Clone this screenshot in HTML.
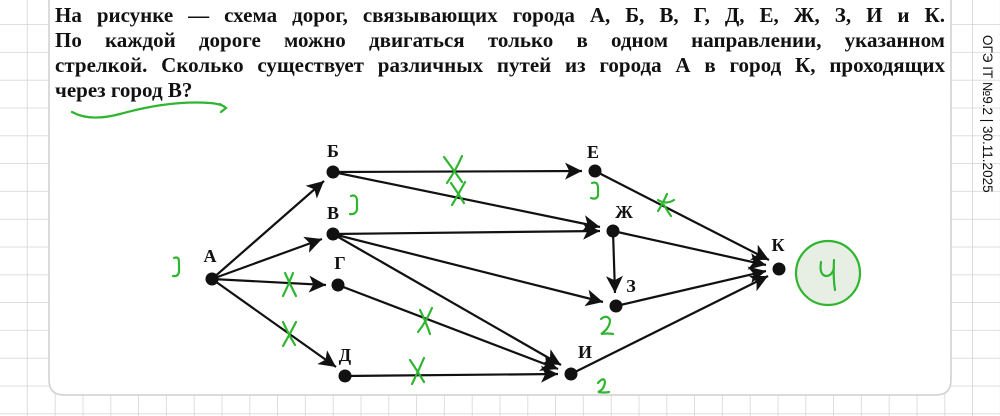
<!DOCTYPE html>
<html><head><meta charset="utf-8"><style>
html,body{margin:0;padding:0;}
body{width:1000px;height:416px;position:relative;overflow:hidden;background:#fff;}
svg{position:absolute;left:0;top:0;}
.t{position:absolute;left:55px;width:890px;font-family:"Liberation Serif",serif;font-weight:bold;font-size:21px;line-height:25px;color:#111;text-align:justify;text-align-last:justify;}
</style></head><body>
<svg width="1000" height="416" viewBox="0 0 1000 416">
<defs>
<pattern id="g" width="27.8" height="27.8" patternUnits="userSpaceOnUse" x="0" y="25">
<path d="M27.8 0V27.8M0 27.8H27.8" fill="none" stroke="#d4d4d4" stroke-width="1.5"/>
</pattern>
<marker id="a" viewBox="0 0 10 10" refX="10" refY="5" markerWidth="17" markerHeight="17" markerUnits="userSpaceOnUse" orient="auto">
<path d="M0 0L10 5L0 10L2.5 5Z" fill="#111"/>
</marker>
</defs>
<rect width="1000" height="416" fill="url(#g)"/>
<path d="M49 -5V380Q49 395 64 395H936Q951 395 951 380V-5Z" fill="#fff" stroke="#cfcfcf" stroke-width="1.5"/>
<g stroke="#111" stroke-width="2.2" fill="none" marker-end="url(#a)">
<line x1="212" y1="279" x2="324" y2="181"/>
<line x1="212" y1="279" x2="322" y2="239"/>
<line x1="212" y1="279" x2="326" y2="285"/>
<line x1="212" y1="279" x2="336" y2="367"/>
<line x1="333" y1="172" x2="582" y2="171"/>
<line x1="333" y1="172" x2="600" y2="227"/>
<line x1="333" y1="234" x2="600" y2="231"/>
<line x1="333" y1="234" x2="603" y2="302"/>
<line x1="333" y1="234" x2="561" y2="365"/>
<line x1="338" y1="285" x2="558" y2="369"/>
<line x1="345" y1="376" x2="558" y2="374"/>
<line x1="595" y1="171" x2="769" y2="260"/>
<line x1="613" y1="231" x2="766" y2="265"/>
<line x1="613" y1="231" x2="615" y2="293"/>
<line x1="616" y1="306" x2="766" y2="271"/>
<line x1="571" y1="374" x2="768" y2="276"/>
</g>
<g fill="#111">
<circle cx="212" cy="279" r="6.5"/><circle cx="333" cy="172" r="6.5"/><circle cx="333" cy="234" r="6.5"/>
<circle cx="338" cy="285" r="6.5"/><circle cx="345" cy="376" r="6.5"/><circle cx="595" cy="171" r="6.5"/>
<circle cx="613" cy="231" r="6.5"/><circle cx="616" cy="306" r="6.5"/><circle cx="571" cy="374" r="6.5"/>
<circle cx="779" cy="269" r="6.5"/>
</g>
<g font-family="Liberation Serif,serif" font-weight="bold" font-size="18" fill="#111" text-anchor="middle">
<text x="210" y="262">А</text><text x="333" y="157">Б</text><text x="333" y="219">В</text>
<text x="340" y="269">Г</text><text x="345" y="361">Д</text><text x="593" y="158">Е</text>
<text x="624" y="218">Ж</text><text x="631" y="292">З</text><text x="585" y="358">И</text>
<text x="778" y="251">К</text>
</g>
<g stroke="#2fb52f" stroke-width="2.2" fill="none" stroke-linecap="round">
<path d="M72 112Q90 122 120 114Q170 100 210 103Q222 104 226 108M220 104L226 108L221 112"/>
<path d="M444 157Q455 172 462 182M462 156Q456 170 447 183"/>
<path d="M451 183Q458 193 464 203M465 182Q458 195 452 205"/>
<path d="M667 194Q662 205 658 211M658 200Q666 205 674 200M664 205Q668 212 671 216"/>
<path d="M285 273Q290 284 296 296M293 273Q288 286 283 296"/>
<path d="M283 322Q288 333 295 345M296 322Q290 334 283 346"/>
<path d="M420 310Q426 322 430 334M432 308Q426 322 418 332"/>
<path d="M410 360Q418 372 424 382M424 358Q418 372 412 384"/>
<path d="M174 258Q179 256 179 262L179 272Q178 277 173 276"/>
<path d="M351 196Q356 194 357 200L357 210Q355 215 350 214"/>
<path d="M592 183Q598 181 598 188L598 196Q596 200 591 198"/>
<path d="M601 319Q607 314 610 320Q610 328 601 334Q607 333 613 334"/>
<path d="M598 383Q604 376 605 382Q604 390 598 392Q605 393 609 392"/>
<circle cx="828" cy="273" r="32" fill="#e7efe4"/>
<path d="M821 262Q819 275 826 276Q832 276 834 268M834 260Q833 278 835 290"/>
</g>
<text transform="translate(983,35) rotate(90)" font-family="Liberation Sans,sans-serif" font-size="13.5" fill="#111">ОГЭ IT №9.2 | 30.11.2025</text>
</svg>
<div class="t" style="top:3px">На рисунке — схема дорог, связывающих города А, Б, В, Г, Д, Е, Ж, З, И и К.</div>
<div class="t" style="top:28px">По каждой дороге можно двигаться только в одном направлении, указанном</div>
<div class="t" style="top:53px">стрелкой. Сколько существует различных путей из города А в город К, проходящих</div>
<div class="t" style="top:78px;text-align-last:left">через город В?</div>
</body></html>
